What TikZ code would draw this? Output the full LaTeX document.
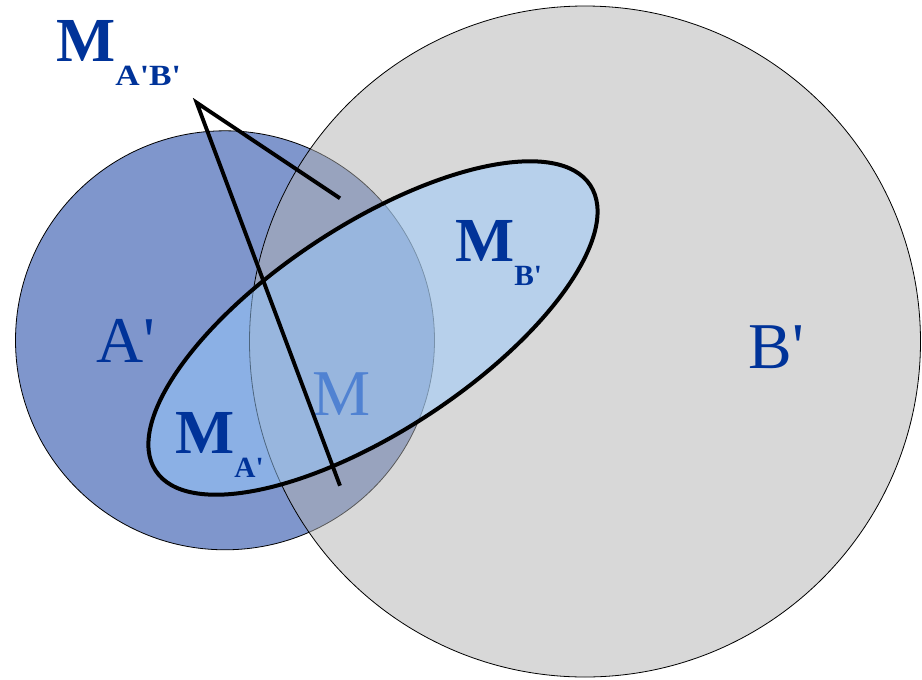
\documentclass[tikz,border=0pt]{standalone}
\usepackage{fontspec}
\setmainfont{Liberation Serif}
\usetikzlibrary{calc}

\definecolor{setAfill}{RGB}{127,150,204}
\definecolor{setBfill}{RGB}{177,177,177}
\definecolor{setMfill}{RGB}{152,202,254}
\definecolor{lbldark}{RGB}{0,51,153}
\definecolor{lbllight}{RGB}{80,130,210}

\newcommand{\primemark}{\textquotesingle}
\newcommand{\bigM}[2][1]{\textbf{M}\raisebox{-18pt}{\scalebox{#1}[1]{\fontsize{22}{22}\selectfont\bfseries #2}}}

\begin{document}
\begin{tikzpicture}[
    x=0.75pt, y=-0.75pt,
    every node/.style={inner sep=0pt, anchor=base west},
    setA/.style={fill=setAfill, draw=black, line width=0.6pt},
    setB/.style={fill=setBfill, fill opacity=0.5, draw=black, line width=0.6pt},
    setM/.style={fill=setMfill, fill opacity=0.5, draw=black, line width=3pt},
    pointer/.style={draw=black, line width=2.9pt},
    setlbl/.style={text=lbldark, font=\fontsize{49}{49}\selectfont},
    sublbl/.style={text=lbldark, font=\fontsize{47}{47}\selectfont},
  ]

  % ---- frame ---------------------------------------------------------
  \useasboundingbox (0,0) rectangle (922,679);

  % ---- geometry ------------------------------------------------------
  \coordinate (ctrA) at (225,340.3);   % A' centre
  \coordinate (ctrB) at (585,341.5);   % B' centre
  \coordinate (ctrM) at (373,328);     % M centre
  \def\radA{209.5}
  \def\radB{335.5}
  \def\angM{33.3}

  % ---- sets ----------------------------------------------------------
  \draw[setA] (ctrA) circle [radius=\radA];
  \draw[setB] (ctrB) circle [radius=\radB];
  \draw[setM, rotate around={\angM:(ctrM)}] (ctrM) ellipse [x radius=260, y radius=103];

  % ---- labels --------------------------------------------------------
  \node[setlbl] (lblA) at (96.5,362.3) {A\primemark};
  \node[setlbl] (lblB) at (748.5,368.6) {B\primemark};
  \node[setlbl, text=lbllight] (lblM) at (312.5,415.7) {M};
  \node[sublbl] (lblMA) at (175,453.5) {\bigM{A\primemark}};
  \node[sublbl] (lblMB) at (455,261.5) {\bigM{B\primemark}};
  \node[sublbl] (lblMAB) at (56,61.7) {\bigM[1.15]{A\primemark B\primemark}};

  % ---- pointer from M_{A'B'} -----------------------------------------
  \coordinate (apex) at (196.7,102.7);
  \coordinate (tipUp) at (340,198.3);
  \coordinate (tipDown) at (340,485.7);
  \draw[pointer] (tipUp) -- (apex) -- (tipDown);

\end{tikzpicture}
\end{document}
